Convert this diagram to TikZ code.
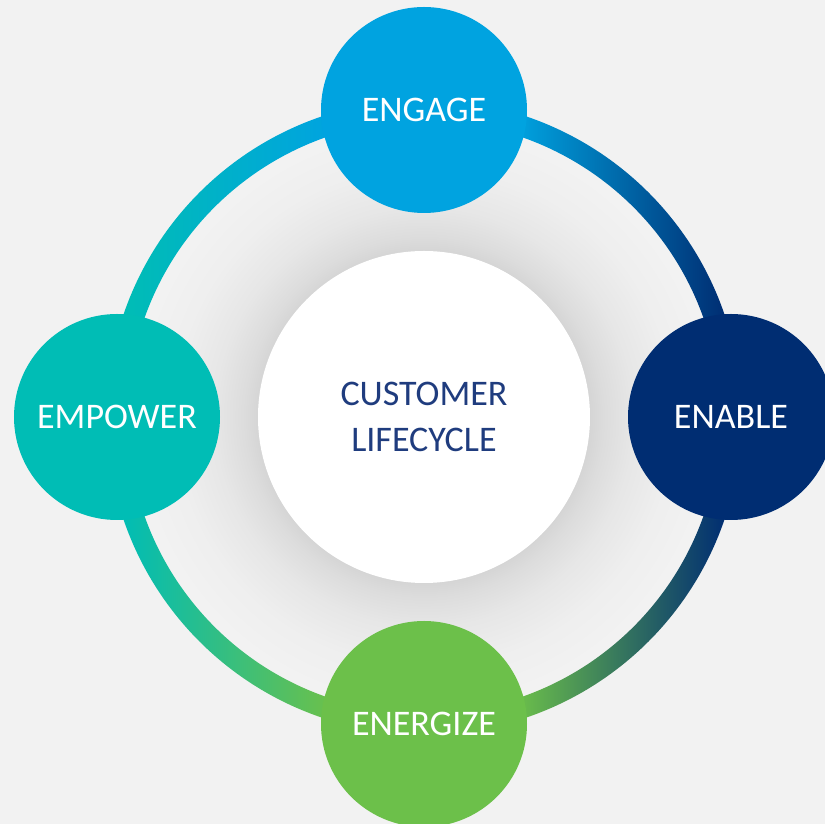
\documentclass[tikz,border=0pt]{standalone}
\usepackage{fontspec}
\setmainfont{Carlito}
\usepackage{xcolor}
\usepackage{tikz}
\usetikzlibrary{positioning,backgrounds}

\definecolor{pagebg}{HTML}{F2F2F2}
\definecolor{engage}{HTML}{00A3E0}
\definecolor{enable}{HTML}{002D72}
\definecolor{energize}{HTML}{6CC04A}
\definecolor{empower}{HTML}{00BDB5}
\definecolor{hubblue}{HTML}{1F3C7E}
\definecolor{glow}{HTML}{D5D5D5}
\colorlet{glowA}{glow!75!pagebg}
\colorlet{glowB}{glow!40!pagebg}
\colorlet{glowC}{glow!12!pagebg}

% soft shadow round the centre disc (25bp = edge of the path)
\pgfdeclareradialshading{hubglow}{\pgfpoint{0bp}{0bp}}{%
  color(0bp)=(glow);color(14.3bp)=(glow);color(15.5bp)=(glowA);%
  color(18bp)=(glowB);color(21.5bp)=(glowC);color(25bp)=(pagebg);%
  color(50bp)=(pagebg)}

\tikzset{
  stage/.style={circle, minimum size=4.12cm, inner sep=0pt, text=white,
    font=\fontsize{20.5}{24}\selectfont},
  hubdisc/.style={circle, fill=white, minimum size=6.64cm, inner sep=0pt,
    text=hubblue, align=center, font=\fontsize{20.5}{26}\selectfont}
}

\begin{document}
\begin{tikzpicture}
  \useasboundingbox (0,0) rectangle (16.5,16.48);

  % Centre disc
  \node[hubdisc] (hub) at (8.48,8.14) {CUSTOMER\\LIFECYCLE};

  % The four stages on the ring
  \node[stage, fill=engage] (engage) at (8.48,14.28) {ENGAGE};
  \node[stage, fill=enable] (enable) at (14.62,8.14) {ENABLE};
  \node[stage, fill=energize] (energize) at (8.48,2.00) {ENERGIZE};
  \node[stage, fill=empower] (empower) at (2.34,8.14) {EMPOWER};

  \begin{scope}[on background layer]
    % Page background
    \fill[pagebg] (0,0) rectangle (16.5,16.48);
    % Shadow under the centre disc
    \shade[shading=hubglow] (hub.center) circle (5.8);
    % Ring segments between the stages, each fading from one colour to the next
    \foreach \from/\lc/\rc in {0/engage/enable, -90/energize/enable,
                               180/empower/energize, 90/empower/engage}
      \shade[left color=\lc, right color=\rc]
        ([shift={(\from+18:6.35)}]hub.center)
          arc[start angle=\from+18, end angle=\from+72, radius=6.35]
        -- ([shift={(\from+72:5.93)}]hub.center)
          arc[start angle=\from+72, end angle=\from+18, radius=5.93] -- cycle;
  \end{scope}
\end{tikzpicture}
\end{document}
